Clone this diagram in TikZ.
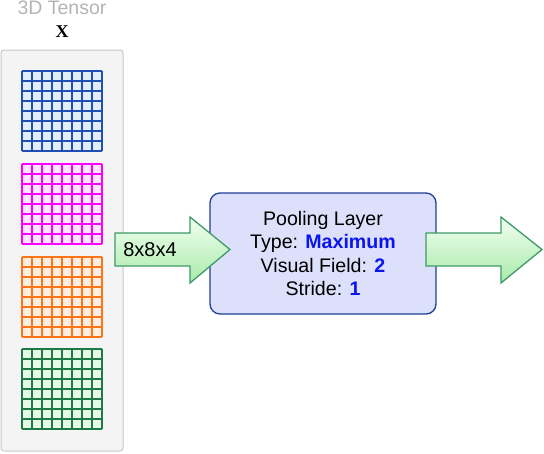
\documentclass[tikz,border=0pt]{standalone}
\usepackage{fontspec}
\setmainfont{Liberation Sans}
\newfontfamily\timesfont{Liberation Serif}
\usetikzlibrary{positioning}

\definecolor{panelfill}{HTML}{F4F4F4}
\definecolor{paneldraw}{HTML}{C8C8C8}
\definecolor{capgray}{HTML}{B4B4B4}
\definecolor{boxfill}{HTML}{DDE0FA}
\definecolor{boxdraw}{HTML}{1F3F96}
\definecolor{valblue}{HTML}{0A14F0}
\definecolor{arrowdraw}{HTML}{3E9A68}
\definecolor{arrowlight}{HTML}{F2FFF2}
\definecolor{arrowdark}{HTML}{A8EAA8}
% grid colours: line / fill
\definecolor{bluel}{HTML}{1F4FB5}    \definecolor{bluef}{HTML}{E3ECFB}
\definecolor{magental}{HTML}{FF00FF} \definecolor{magentaf}{HTML}{FDE6FD}
\definecolor{orangel}{HTML}{FF7414}  \definecolor{orangef}{HTML}{FDEEE4}
\definecolor{greenl}{HTML}{1E7A45}   \definecolor{greenf}{HTML}{E6F8E6}

\tikzset{
  panel/.style={draw=paneldraw, fill=panelfill, line width=1pt, rounded corners=3pt},
  poolbox/.style={draw=boxdraw, fill=boxfill, line width=1.3pt, rounded corners=10pt,
    minimum width=226pt, minimum height=121pt, align=center, font=\fontsize{19.6}{23.4}\selectfont},
  blockarrow/.style={draw=arrowdraw, line width=1.3pt, top color=arrowlight, bottom color=arrowdark},
}

\begin{document}
\begin{tikzpicture}[x=1pt,y=-1pt]
  \useasboundingbox (0,0) rectangle (544,453);

  % Tensor
  \node[text=capgray, font=\fontsize{19.5}{20}\selectfont] (title) at (62,8) {3D Tensor};
  \node[font=\timesfont\bfseries\fontsize{18}{18}\selectfont] (x) at (62,32) {X};
  \node[panel, minimum width=122pt, minimum height=401pt] (panel) at (62,250.5) {};

  \foreach \c/\t in {blue/71, magenta/164, orange/257, green/349} {
    \fill[\c f] (22,\t) rectangle (102,\t+80);
    \foreach \i in {0,...,8} {
      \draw[\c l, line width=1.3pt] (22+10*\i,\t) -- (22+10*\i,\t+80);
      \draw[\c l, line width=1.3pt] (22,\t+10*\i) -- (102,\t+10*\i);
    }
  }

  % Pooling layer
  \node[poolbox] (pool) at (323,253.5)
    {Pooling Layer\\
     Type: \textcolor{valblue}{\bfseries Maximum}\\
     Visual Field: \textcolor{valblue}{\bfseries 2}\\
     Stride: \textcolor{valblue}{\bfseries 1}};

  % Arrows
  \draw[blockarrow] (115,233) -- (190,233) -- (190,217) -- (230,249.5)
    -- (190,283) -- (190,266) -- (115,266) -- cycle;
  \node[font=\fontsize{20}{20}\selectfont] (insize) at (150,249.5) {8x8x4};
  \draw[blockarrow] (426,233) -- (501,233) -- (501,217) -- (542,249.5)
    -- (501,283) -- (501,266) -- (426,266) -- cycle;
\end{tikzpicture}
\end{document}
